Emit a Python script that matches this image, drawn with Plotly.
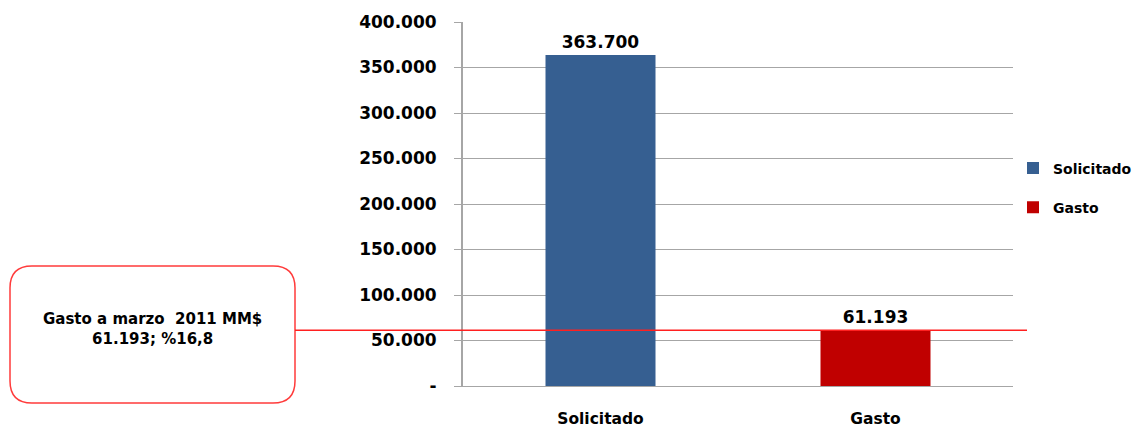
import plotly.graph_objects as go

categories = ["Solicitado", "Gasto"]
values = [363700, 61193]
value_labels = ["363.700", "61.193"]
colors = ["#365F91", "#C00000"]
tick_vals = [0, 50000, 100000, 150000, 200000, 250000, 300000, 350000, 400000]
tick_text = ["-", "50.000", "100.000", "150.000", "200.000", "250.000", "300.000", "350.000", "400.000"]
note_text = "Gasto a marzo  2011 MM$<br>61.193; %16,8"
ref_value = values[1]

W, H = 1138, 430
L, R, T, B = 463, 125, 22, 44
pw, ph = W - L - R, H - T - B

def px(x):
    return (x - L) / pw

def py(y):
    return (H - B - y) / ph

FONT = "DejaVu Sans"
fig = go.Figure()
for i, (c, v, t, col) in enumerate(zip(categories, values, value_labels, colors)):
    fig.add_trace(go.Bar(
        x=[c], y=[v], name=c, marker=dict(color=col, line=dict(width=0)),
        text=[t], textposition="outside", cliponaxis=False,
        textfont=dict(family=FONT, size=17, color="black", weight="bold"),
        legendgroup=c,
    ))

# rounded box path
x0, x1, y0, y1 = px(10), px(295), py(403), py(266)
rx, ry = 22 / pw, 22 / ph
path = (f"M {x0+rx},{y0} L {x1-rx},{y0} Q {x1},{y0} {x1},{y0+ry} "
        f"L {x1},{y1-ry} Q {x1},{y1} {x1-rx},{y1} L {x0+rx},{y1} "
        f"Q {x0},{y1} {x0},{y1-ry} L {x0},{y0+ry} Q {x0},{y0} {x0+rx},{y0} Z")
fig.add_shape(type="path", path=path, xref="paper", yref="paper",
              line=dict(color="#FF3B3B", width=1.5), fillcolor="white", layer="above")
fig.add_shape(type="line", xref="paper", yref="y", x0=px(295), x1=px(1027),
              y0=ref_value, y1=ref_value, line=dict(color="#FF2020", width=1.5), layer="above")
fig.add_annotation(x=(px(10) + px(295)) / 2, y=py(329), xref="paper", yref="paper",
                   xanchor="center", yanchor="middle",
                   text=note_text, showarrow=False, align="center",
                   font=dict(family=FONT, size=15, color="black", weight="bold"))

fig.update_layout(
    width=W, height=H,
    margin=dict(l=L, r=R, t=T, b=B, pad=0, autoexpand=False),
    paper_bgcolor="white", plot_bgcolor="white",
    barmode="overlay", bargap=0.6,
    showlegend=True,
    legend=dict(xref="container", yref="container", x=1013 / W, y=1 - 188 / H,
                xanchor="left", yanchor="middle",
                font=dict(family=FONT, size=14, color="black", weight="bold"),
                tracegroupgap=18, itemwidth=30),
    xaxis=dict(showline=True, linecolor="#A6A6A6", linewidth=1.2, showgrid=False, ticks="",
               ticklabelstandoff=18, automargin=False,
               tickfont=dict(family=FONT, size=15.5, color="black", weight="bold")),
    yaxis=dict(range=[0, 400000], tickvals=tick_vals, ticktext=tick_text,
               showgrid=True, gridcolor="#A6A6A6", gridwidth=1.2,
               showline=True, linecolor="#A6A6A6", linewidth=2,
               ticks="outside", ticklen=7, tickcolor="#A6A6A6",
               zeroline=False, automargin=False, ticklabelstandoff=14,
               tickfont=dict(family=FONT, size=17, color="black", weight="bold")),
)
fig.write_html("out.html", config={"displayModeBar": False},
               post_script="document.body.style.margin='0';")
